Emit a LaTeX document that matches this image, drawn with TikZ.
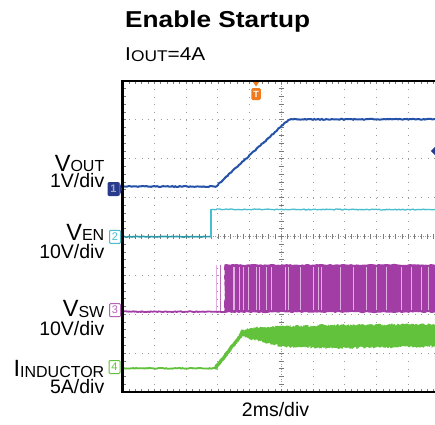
\documentclass[tikz,border=0pt]{standalone}
\usepackage{fontspec}
\setmainfont{Liberation Sans}
\usetikzlibrary{decorations.pathmorphing,shapes.symbols}
\definecolor{voutc}{HTML}{2452A8}
\definecolor{navyc}{HTML}{283A8C}
\definecolor{venc}{HTML}{48BED0}
\definecolor{venlow}{HTML}{2A9AAA}
\definecolor{swc}{HTML}{A23DA6}
\definecolor{swlight}{HTML}{DDB0DF}
\definecolor{ilc}{HTML}{62C23C}
\definecolor{trigc}{HTML}{F07A20}
\definecolor{gridc}{HTML}{9A9A9A}
\newcommand{\siglbl}[2]{{\fontsize{23.5}{24}\selectfont #1}\raisebox{-0.5pt}{\fontsize{16}{16}\selectfont #2}}
\newcommand{\divfont}{\fontsize{19.5}{20}\selectfont}
\begin{document}
\begin{tikzpicture}[x=1pt,y=-1pt,
  lbl/.style={anchor=base east, inner sep=0pt},
  divlbl/.style={anchor=base east, inner sep=0pt, font=\divfont},
  vgrid/.style={gridc, line width=1pt, dash pattern=on 1pt off 6.775pt},
  hgrid/.style={gridc, line width=1pt, dash pattern=on 1pt off 5.35pt},
  cgrid/.style={gridc, line width=0.9pt, dash pattern=on 1pt off 1.5pt},
  tick/.style={gridc!80!black, line width=0.8pt},
  noisy/.style={decorate, decoration={random steps, segment length=1.5pt, amplitude=0.45pt}},
  chmark/.style={rectangle, rounded corners=1pt, minimum width=11pt, minimum height=13pt, inner sep=0pt, line width=1pt, fill=white, font=\fontsize{11}{11}\selectfont}
]
\pgfmathsetseed{7}
\useasboundingbox (0,0) rectangle (435,424);
\fill[white] (0,0) rectangle (435,424);

\def\xl{122.7}
\def\dx{31.75}
\def\yt{81}
\def\dy{38.875}
\def\yb{392}

% grid
\begin{scope}
\clip (0,0) rectangle (435,424);
\foreach \i in {1,2,3,4,6,7,8,9}
  \draw[vgrid] ({\xl+\i*\dx},\yt) -- ({\xl+\i*\dx},\yb);
\foreach \j in {1,2,3,5,6,7}
  \draw[hgrid] (\xl,{\yt+\j*\dy}) -- (440,{\yt+\j*\dy});
% centre lines
\draw[cgrid] ({\xl+5*\dx},\yt) -- ({\xl+5*\dx},\yb);
\draw[cgrid] (\xl,{\yt+4*\dy}) -- (440,{\yt+4*\dy});
\foreach \k in {1,...,39}
  \draw[tick] ({\xl+5*\dx-2.5},{\yt+\k*\dy/5}) -- ({\xl+5*\dx+2.5},{\yt+\k*\dy/5});
\foreach \k in {1,...,49}
  \draw[tick] ({\xl+\k*\dx/5},{\yt+4*\dy-2.5}) -- ({\xl+\k*\dx/5},{\yt+4*\dy+2.5});
% frame ticks
\foreach \k in {1,...,39}
  \draw[tick] (\xl,{\yt+\k*\dy/5}) -- ({\xl+3},{\yt+\k*\dy/5});
\foreach \k in {1,...,49} {
  \draw[tick] ({\xl+\k*\dx/5},\yb) -- ({\xl+\k*\dx/5},{\yb-3});
  \draw[tick] ({\xl+\k*\dx/5},\yt) -- ({\xl+\k*\dx/5},{\yt+3});
}

% V_OUT trace
\draw[voutc, line width=2pt, noisy] (\xl,186.5) -- (214,186.5)
  .. controls (217,186.3) and (218,184.5) .. (220,182.5) -- (286,122)
  .. controls (289,119.6) .. (293,119.4) -- (437,119.2);

% V_EN trace
\draw[venlow, line width=1.6pt, noisy] (\xl,236.7) -- (211,236.7);
\draw[venc, line width=1.2pt] (211,236.7) -- (211,209.4);
\draw[venc, line width=1.3pt, noisy] (211,209.4) -- (437,209.6);

% V_SW trace
\draw[swc, line width=1.8pt, noisy] (\xl,311.6) -- (226,311.8);
\fill[swc, decorate, decoration={random steps, segment length=2pt, amplitude=0.6pt}]
  (224.5,264.5) -- (437,264.5) -- (437,312.5) -- (224.5,312.5) -- cycle;
\draw[swlight, line width=0.8pt] (216.7,264.5) -- (216.7,311);
\draw[swc!75, line width=1pt] (220.3,264.5) -- (220.3,311);
\foreach \x/\w in {234/1.8, 239.3/0.8, 243.3/1.2, 248.3/0.8, 256.7/1.4, 259.5/0.7,
  266.7/0.8, 271.7/1.2, 285/1.0, 288.3/0.7, 300/0.6, 313.3/1.2, 318.3/0.8, 321.7/0.7,
  340/1.0, 353.3/0.8, 366.7/1.0, 376.7/0.8, 386.7/0.8, 401.7/1.0, 411.7/0.8,
  421.7/1.0, 428.3/0.8}
  \draw[swlight, line width=\w pt] (\x,267) -- (\x,310);

% I_INDUCTOR trace
\draw[ilc, line width=1.8pt, noisy] (\xl,368.3) -- (216,368.3);
\draw[ilc, line width=3.4pt, noisy] (215,368.5) -- (243,332.5);
\fill[ilc, decorate, decoration={random steps, segment length=1pt, amplitude=1.2pt}]
  (241,330.5) -- (250,328) -- (281,326.5) -- (330,325) -- (437,324.5) --
  (437,346.5) -- (330,348) -- (281,346.5) -- (260,341) -- (241,336.5) -- cycle;
\end{scope}

% frame
\draw[black, line width=2pt] (\xl,\yt) -- (437,\yt);
\draw[black, line width=2pt] (\xl,\yb) -- (437,\yb);
\draw[black, line width=2.5pt] (\xl,{\yt-1}) -- (\xl,{\yb+1});

% channel markers
\node[chmark, draw=navyc, fill=navyc, text=white!55!navyc, font=\bfseries\fontsize{11}{11}\selectfont] (m1) at (113.5,189) {1};
\node[chmark, draw=venc, text=venc] (m2) at (115,236.8) {2};
\node[chmark, draw=swc!80, text=swc!80] (m3) at (115,310.2) {3};
\node[chmark, draw=ilc, text=ilc] (m4) at (114.5,367) {4};
\fill[navyc] (m1.north east) -- ([xshift=2.5pt]m1.east) -- (m1.south east) -- cycle;
\node[signal, signal to=west, fill=navyc, minimum width=8pt, minimum height=9pt, inner sep=0pt] (m1r) at (437,151) {};

% trigger marker
\fill[trigc] (253,82) -- (259,82) -- (256,86.5) -- cycle;
\node[fill=trigc, text=white, font=\bfseries\fontsize{9}{9}\selectfont, minimum width=9.5pt, minimum height=12pt, inner sep=0pt, rounded corners=1.5pt] (trig) at (256,94) {T};

% titles
\node[anchor=base west, inner sep=0pt, xscale=1.14, font=\bfseries\fontsize{23}{24}\selectfont] (title) at (125,27) {Enable Startup};
\node[anchor=base west, inner sep=0pt, xscale=1.12] (iout) at (125,60) {\fontsize{18.6}{19}\selectfont I\raisebox{-1pt}{\fontsize{15.5}{16}\selectfont OUT}=4A};

% left labels
\node[lbl] (vout) at (104.5,171) {\siglbl{V}{OUT}};
\node[divlbl] (voutd) at (104.5,187.5) {1V/div};
\node[lbl] (ven) at (104.5,240) {\siglbl{V}{EN}};
\node[divlbl] (vend) at (104.5,258.8) {10V/div};
\node[lbl] (vsw) at (104.5,316.5) {\siglbl{V}{SW}};
\node[divlbl] (vswd) at (104.5,335.3) {10V/div};
\node[lbl] (il) at (104.5,376.7) {\siglbl{I}{INDUCTOR}};
\node[divlbl] (ild) at (104.5,393.2) {5A/div};

% time base
\node[anchor=base, inner sep=0pt, font=\divfont] (tdiv) at (275.5,416.7) {2ms/div};
\end{tikzpicture}
\end{document}
